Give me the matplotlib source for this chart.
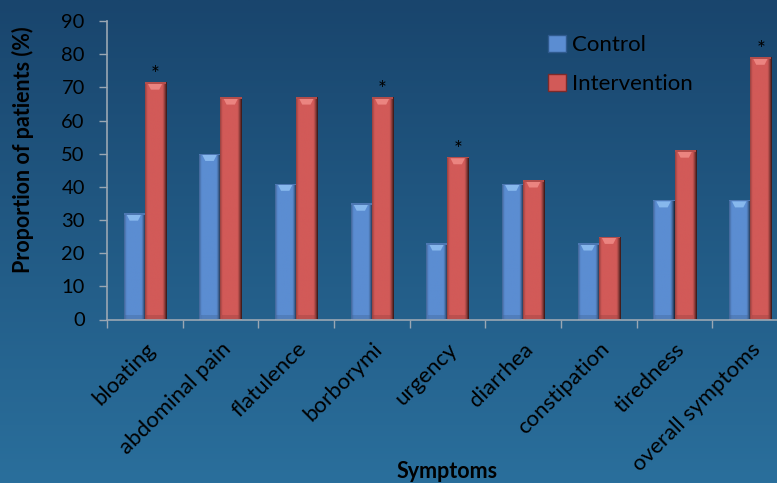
import numpy as np
import matplotlib
matplotlib.use("Agg")
import matplotlib.pyplot as plt
import matplotlib.transforms as mtransforms
from matplotlib.colors import to_rgb
from matplotlib.patches import Patch

plt.rcParams['font.family'] = ['Lato', 'DejaVu Sans']

categories = ["bloating", "abdominal pain", "flatulence", "borborymi", "urgency",
              "diarrhea", "constipation", "tiredness", "overall symptoms"]
control = [32, 50, 41, 35, 23, 41, 23, 36, 36]
intervention = [71.5, 67, 67, 67, 49, 42, 25, 51, 79]
significant = [True, False, False, True, True, False, False, False, True]
yticks = [0, 10, 20, 30, 40, 50, 60, 70, 80, 90]

W, H = 777, 483
fig = plt.figure(figsize=(W / 100, H / 100), dpi=100)

# gradient backdrop: deep navy at the top fading to a lighter teal-blue below
bg = fig.add_axes([0, 0, 1, 1], zorder=-10)
top = np.array(to_rgb("#19456d"))
bot = np.array(to_rgb("#2a6f9c"))
t = np.linspace(0, 1, 256)[:, None]
grad = top[None, :] * (1 - t) + bot[None, :] * t
grad = np.repeat(grad[:, None, :], 2, axis=1)
bg.imshow(grad, aspect='auto', extent=[0, 1, 0, 1])
bg.set_axis_off()

ax_left, ax_right = 107 / W, 788 / W
ax_top, ax_bot = 1 - 21 / H, 1 - 319.5 / H
ax = fig.add_axes([ax_left, ax_bot, ax_right - ax_left, ax_top - ax_bot])
ax.patch.set_alpha(0)

x = np.arange(len(categories))
bw = 0.28
blue = "#5b8dd2"
red = "#d25a58"
b1 = ax.bar(x - bw / 2, control, bw, color=blue, zorder=2)
b2 = ax.bar(x + bw / 2, intervention, bw, color=red, zorder=2)


def shade(bars, base, cap):
    base = np.array(to_rgb(base))
    cap = np.array(to_rgb(cap))
    n = 64
    u = np.linspace(0, 1, n)
    # horizontal profile: soft dark left rim, bright body, deep shadow on the right
    f = np.ones(n)
    f = np.where(u < 0.12, 0.72 + 0.28 * (u / 0.12), f)
    f = np.where(u > 0.80, 1.0 - 0.75 * ((u - 0.80) / 0.20) ** 1.2, f)
    row = np.clip(base[None, :] * f[:, None], 0, 1)
    img = np.concatenate([row, np.ones((n, 1))], axis=1)[None, :, :]
    for p in bars:
        x0, w, h = p.get_x(), p.get_width(), p.get_height()
        im = ax.imshow(img, extent=[x0, x0 + w, 0, h], aspect='auto',
                       zorder=2.1, interpolation='bilinear')
        im.set_clip_path(p)
        # bevelled cap at the top
        ax.fill([x0 + 0.04, x0 + w - 0.05, x0 + w - 0.09, x0 + 0.08],
                [h - 0.4, h - 0.4, h - 2.2, h - 2.2], color=cap, alpha=0.85,
                zorder=2.2, lw=0)
        ax.fill([x0, x0 + w, x0 + w, x0], [h - 0.4, h - 0.4, h, h],
                color=base * 0.85, zorder=2.2, lw=0)
        # darker base bevel
        ax.fill([x0 + 0.02, x0 + w - 0.03, x0 + w - 0.03, x0 + 0.02],
                [0, 0, 1.4, 1.4], color=base * 0.7, alpha=0.35, zorder=2.2, lw=0)


shade(b1, blue, "#8fc0f2")
shade(b2, red, "#f08c88")

for xi, v, s in zip(x, intervention, significant):
    if s:
        ax.text(xi + bw / 2, v + 0.3, "*", ha='center', va='baseline',
                fontsize=15, color='black', zorder=3)

ax.set_xlim(-0.5, len(categories) - 0.5)
ax.set_ylim(0, 90)
ax.set_yticks(yticks)
ax.set_yticklabels([str(v) for v in yticks], fontsize=14.5, color='black')
ax.set_xticks(x)
ax.set_xticklabels(categories, rotation=45, ha='right', rotation_mode='anchor',
                   fontsize=16, color='black')
shift = mtransforms.ScaledTranslation(-6 / 100, 0, fig.dpi_scale_trans)
for lbl in ax.get_xticklabels():
    lbl.set_transform(lbl.get_transform() + shift)
ax.set_xticks(np.arange(-0.5, len(categories), 1), minor=True)
ax.tick_params(axis='x', which='major', length=0, pad=14)
ax.tick_params(axis='x', which='minor', length=6, color='#9aa7b3', width=1)
ax.tick_params(axis='y', length=6, color='#9aa7b3', width=1, pad=10)
for s in ['top', 'right']:
    ax.spines[s].set_visible(False)
for s in ['left', 'bottom']:
    ax.spines[s].set_color('#9aa7b3')
    ax.spines[s].set_linewidth(1.2)

fig.text(23 / W, 1 - 150 / H, "Proportion of patients (%)", rotation=90,
         ha='center', va='center', fontsize=15.5, fontweight='bold', color='black')
fig.text(447 / W, 1 - 471 / H, "Symptoms", ha='center', va='center',
         fontsize=15.5, fontweight='bold', color='black')

handles = [Patch(facecolor=blue, edgecolor="#2f5a8e", lw=1),
           Patch(facecolor=red, edgecolor="#7c2a2a", lw=1)]
leg = fig.legend(handles, ["Control", "Intervention"], loc='upper left',
                 bbox_to_anchor=(528 / W, 1 - 15 / H), frameon=False,
                 fontsize=16, handlelength=0.8, handleheight=0.8,
                 handletextpad=0.3, labelspacing=0.85)
for txt in leg.get_texts():
    txt.set_color('black')

fig.savefig("out.png", dpi=100)
